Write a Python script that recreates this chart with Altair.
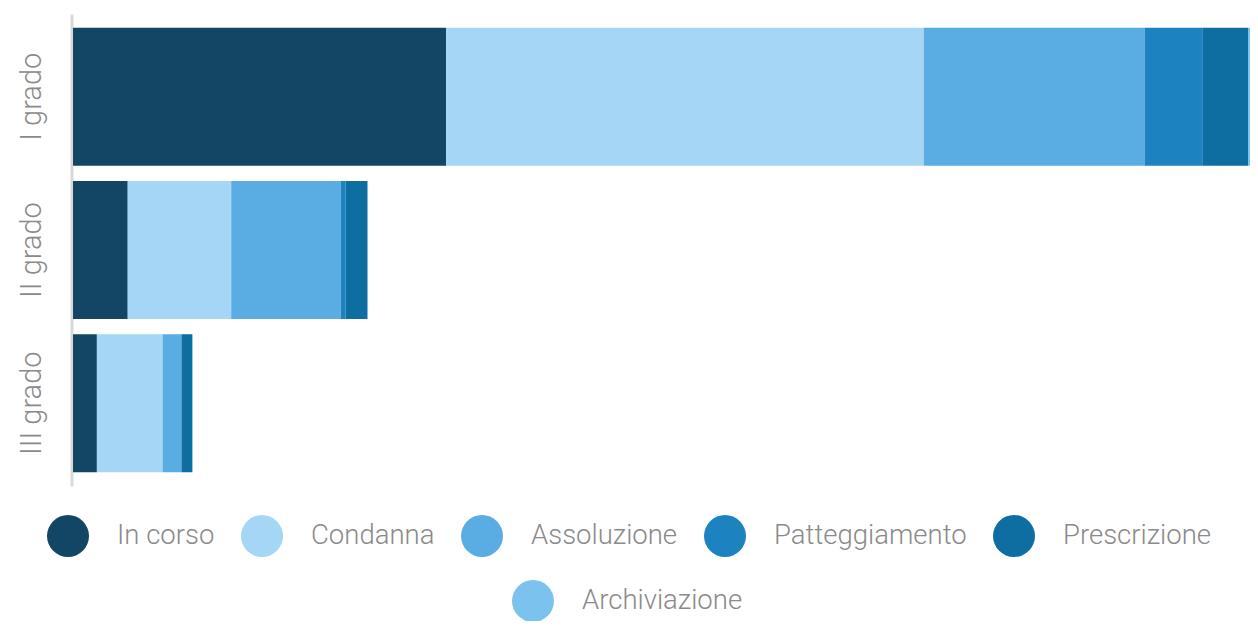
import altair as alt
import pandas as pd

gradi = ["I grado", "II grado", "III grado"]
esiti = ["In corso", "Condanna", "Assoluzione", "Patteggiamento", "Prescrizione", "Archiviazione"]
colori = ["#124664", "#a6d6f6", "#59ade3", "#1d83c0", "#0f6ea1", "#7cc2ee"]

in_corso = [375, 55, 24]
condanna = [480, 104, 66]
assoluzione = [222, 110, 19]
patteggiamento = [58, 5, 0]
prescrizione = [46, 22, 11]
archiviazione = [2, 0, 0]

series = [in_corso, condanna, assoluzione, patteggiamento, prescrizione, archiviazione]
rows = []
for i, (name, vals) in enumerate(zip(esiti, series)):
    for g, v in zip(gradi, vals):
        rows.append({"grado": g, "esito": name, "valore": v, "ordine": i})
df = pd.DataFrame(rows)

FONT = "Roboto"
GRAY = "#8a8a8a"

base = alt.Chart(df).transform_stack(
    stack="valore", groupby=["grado"], as_=["x0", "x1"],
    sort=[alt.SortField("ordine", order="ascending")]
)

yenc = alt.Y("grado:N", sort=gradi,
             scale=alt.Scale(paddingInner=0.1, paddingOuter=0.09),
             axis=alt.Axis(title=None, labelAngle=-90, labelFontSize=29, labelColor=GRAY,
                           labelFont=FONT, labelFontWeight=300, ticks=False, labelPadding=25,
                           domainColor="#d9d9d9", domainWidth=3, offset=1.5))
xenc = alt.X("x0:Q", axis=None, scale=alt.Scale(nice=False, zero=True))

legend_common = dict(orient="none", direction="horizontal", title=None,
                     symbolType="circle", symbolSize=1764, symbolStrokeWidth=0,
                     symbolOpacity=1, labelFontSize=27.5, labelColor=GRAY, labelFont=FONT,
                     labelFontWeight=300,
                     labelOffset=28, labelLimit=400, columnPadding=26)

main = base.transform_filter(alt.datum.esito != "Archiviazione").mark_bar(opacity=1).encode(
    x=xenc, x2="x1:Q", y=yenc,
    color=alt.Color("esito:N", scale=alt.Scale(domain=esiti[:5], range=colori[:5]),
                    legend=alt.Legend(columns=5, legendX=-26, legendY=501, **legend_common)),
)

extra = base.transform_filter(alt.datum.esito == "Archiviazione").mark_bar(opacity=1).encode(
    x=xenc, x2="x1:Q", y=yenc,
    fill=alt.Fill("esito:N", scale=alt.Scale(domain=esiti[5:], range=colori[5:]),
                  legend=alt.Legend(columns=1, legendX=439, legendY=566, **legend_common)),
)

chart = alt.layer(main, extra).properties(
    width=1177, height=472,
    autosize=alt.AutoSizeParams(type="none"),
    padding={"left": 65, "top": 6, "right": 0, "bottom": 135},
).configure_view(stroke=None)

chart.save("out.html", embed_options={"renderer": "svg", "actions": False})
